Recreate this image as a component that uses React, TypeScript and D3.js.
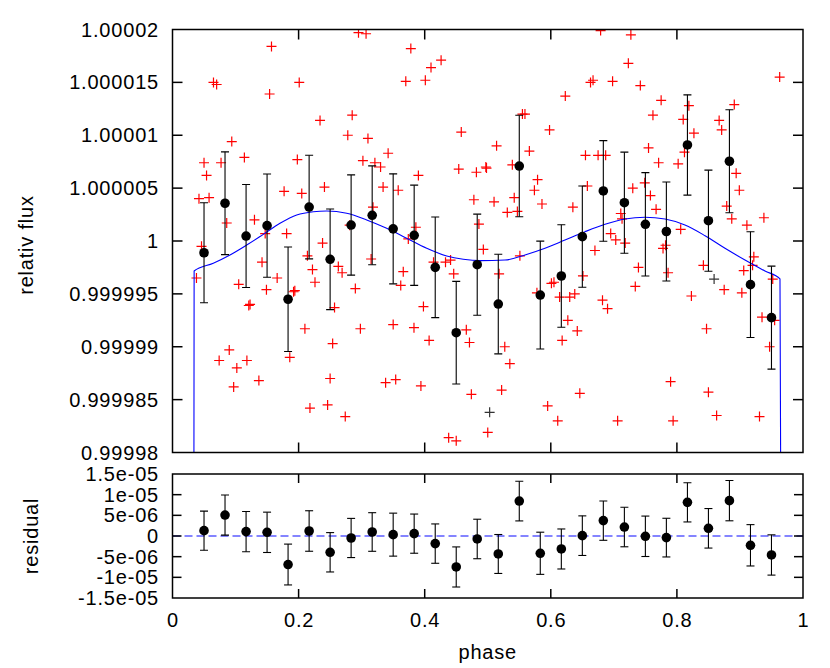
import React from 'react';
import * as d3 from 'd3';

// binned light curve (phase, relative flux, 1-sigma error)
const binPhase = [0.05, 0.0833, 0.1167, 0.15, 0.1833, 0.2167, 0.25, 0.2833, 0.3167, 0.35, 0.3833, 0.4167, 0.45, 0.4833,
  0.5167, 0.55, 0.5833, 0.6167, 0.65, 0.6833, 0.7167, 0.75, 0.7833, 0.8167, 0.85, 0.8833, 0.9167, 0.95];
const binFlux = [0.99999889, 1.00000357, 1.00000047, 1.00000145, 0.99999449, 1.00000321, 0.99999827, 1.00000151,
  1.00000243, 1.00000115, 1.00000054, 0.99999751, 0.99999133, 0.99999776, 0.99999404, 1.00000709, 0.99999489,
  0.99999669, 1.00000041, 1.00000473, 1.00000362, 1.00000158, 1.0000009, 1.00000908, 1.00000192, 1.00000754,
  0.99999587, 0.99999275];
const binErr = [4.73e-6, 4.86e-6, 4.87e-6, 4.88e-6, 4.94e-6, 4.9e-6, 4.76e-6, 4.74e-6, 4.67e-6, 5.2e-6, 4.74e-6,
  4.76e-6, 4.85e-6, 4.78e-6, 4.71e-6, 4.8e-6, 5.1e-6, 4.84e-6, 4.79e-6, 4.76e-6, 4.78e-6, 4.89e-6, 4.68e-6,
  4.74e-6, 4.78e-6, 4.87e-6, 5.0e-6, 4.87e-6];
const residual = [1.3e-6, 5.07e-6, 1.06e-6, 0.89e-6, -6.9e-6, 1.21e-6, -3.94e-6, -0.48e-6, 0.97e-6, 0.33e-6, 0.57e-6,
  -1.84e-6, -7.49e-6, -0.72e-6, -4.35e-6, 8.45e-6, -4.18e-6, -3.14e-6, 0.08e-6, 3.72e-6, 2.17e-6, -0.07e-6,
  -0.39e-6, 8.14e-6, 1.86e-6, 8.55e-6, -2.25e-6, -4.59e-6];

// model curve
const modelPhase = [0.0338, 0.0343, 0.0647, 0.0912, 0.1177, 0.144, 0.1705, 0.197, 0.2233, 0.2446, 0.2763, 0.308,
  0.3397, 0.3714, 0.4032, 0.4349, 0.4612, 0.4877, 0.5274, 0.5591, 0.5908, 0.6225, 0.6543, 0.686, 0.7177, 0.7494,
  0.7811, 0.8128, 0.8446, 0.8763, 0.908, 0.9397, 0.9635, 0.9651];
const modelFlux = [0.99997, 0.99999716, 0.9999979, 0.99999868, 0.99999962, 1.00000063, 1.00000167, 1.00000246,
  1.00000277, 1.00000284, 1.00000262, 1.00000199, 1.0000012, 1.00000026, 0.99999931, 0.99999858, 0.99999827,
  0.99999814, 0.9999982, 0.99999868, 0.99999931, 1.00000009, 1.00000088, 1.00000158, 1.00000208, 1.00000224,
  1.00000208, 1.00000151, 1.0000005, 0.99999931, 0.9999982, 0.99999716, 0.99999641, 0.99997];

// unbinned measurements
const crossPhase = [0.295, 0.307, 0.157, 0.378, 0.426, 0.41, 0.065, 0.07, 0.154, 0.201, 0.37, 0.401, 0.234, 0.285,
  0.278, 0.31, 0.458, 0.094, 0.05, 0.077, 0.114, 0.054, 0.198, 0.302, 0.321, 0.33, 0.342, 0.39, 0.454, 0.482, 0.497,
  0.042, 0.058, 0.177, 0.205, 0.241, 0.334, 0.358, 0.478, 0.086, 0.13, 0.147, 0.181, 0.318, 0.281, 0.386, 0.486,
  0.679, 0.727, 0.723, 0.963, 0.663, 0.667, 0.698, 0.742, 0.623, 0.775, 0.762, 0.555, 0.559, 0.819, 0.891, 0.81,
  0.867, 0.871, 0.827, 0.598, 0.514, 0.566, 0.755, 0.655, 0.675, 0.687, 0.812, 0.771, 0.802, 0.498, 0.539, 0.894,
  0.579, 0.574, 0.658, 0.73, 0.899, 0.542, 0.51, 0.586, 0.635, 0.767, 0.758, 0.749, 0.879, 0.531, 0.547, 0.711,
  0.713, 0.887, 0.938, 0.911, 0.806, 0.695,
  0.046, 0.038, 0.142, 0.105, 0.149, 0.166, 0.123, 0.121, 0.192, 0.194, 0.214, 0.222, 0.226, 0.238, 0.263, 0.269,
  0.29, 0.315, 0.257, 0.21, 0.254, 0.298, 0.074, 0.09, 0.102, 0.118, 0.097, 0.137, 0.186, 0.218, 0.246, 0.25, 0.274,
  0.338, 0.354, 0.35, 0.383, 0.398, 0.407, 0.394, 0.366, 0.362, 0.374, 0.414, 0.433, 0.441, 0.446, 0.466, 0.471,
  0.474, 0.493, 0.438, 0.45, 0.5, 0.551, 0.518, 0.527, 0.535, 0.522, 0.605, 0.601, 0.578, 0.614, 0.63, 0.638, 0.627,
  0.642, 0.618, 0.67, 0.703, 0.718, 0.739, 0.734, 0.682, 0.69, 0.651, 0.778, 0.782, 0.786, 0.823, 0.842, 0.875,
  0.847, 0.79, 0.85, 0.646, 0.595, 0.611, 0.706, 0.794, 0.863, 0.931, 0.906, 0.903, 0.922, 0.92, 0.952, 0.935,
  0.955, 0.947];
const crossFlux = [1.0000197, 1.0000196, 1.0000184, 1.0000182, 1.0000171, 1.0000164, 1.000015, 1.0000148, 1.0000139,
  1.000015, 1.0000151, 1.0000152, 1.0000114, 1.0000119, 1.00001, 1.0000097, 1.0000103, 1.0000094, 1.0000074,
  1.0000074, 1.0000079, 1.0000062, 1.0000077, 1.0000076, 1.0000074, 1.000007, 1.0000083, 1.0000062, 1.0000068,
  1.0000065, 1.000007, 1.000004, 1.0000041, 1.0000047, 1.0000045, 1.0000051, 1.0000051, 1.0000048, 1.0000039,
  1.0000017, 1.000002, 1.0000007, 1.0000007, 1.0000032, 1.0000015, 1.0000013, 1.0000016,
  1.0000199, 1.0000195, 1.0000168, 1.0000155, 1.000015, 1.0000152, 1.0000151, 1.0000147, 1.0000137, 1.0000133,
  1.0000119, 1.000012, 1.000012, 1.0000128, 1.0000129, 1.0000115, 1.0000114, 1.0000105, 1.0000102, 1.0000105,
  1.000009, 1.0000085, 1.0000088, 1.0000081, 1.0000081, 1.0000081, 1.0000084, 1.0000074, 1.0000073, 1.0000069,
  1.0000072, 1.0000064, 1.0000058, 1.0000048, 1.0000052, 1.000005, 1.0000048, 1.0000041, 1.0000037, 1.0000035,
  1.0000032, 1.000003, 1.0000043, 1.0000055, 1.0000033, 1.0000027, 1.0000028, 1.0000026, 1.0000021, 1.0000021,
  1.0000022, 1.0000015, 1.0000011, 1.0000007,
  0.9999995, 0.9999965, 0.999998, 0.9999959, 0.9999954, 0.9999965, 0.999994, 0.9999939, 0.9999952, 0.9999953,
  0.9999986, 0.9999973, 0.9999961, 0.9999998, 0.9999976, 0.999997, 0.9999955, 0.9999983, 0.9999937, 0.9999917,
  0.9999903, 0.9999917, 0.9999887, 0.9999897, 0.999988, 0.9999887, 0.9999862, 0.9999868, 0.999989, 0.9999842,
  0.9999845, 0.999987, 0.9999834, 0.9999866, 0.9999869, 0.9999921, 0.9999918, 0.9999938, 0.9999906, 0.9999863,
  0.9999971, 0.9999958, 1.0000002, 0.999998, 0.999998, 0.9999982, 0.9999969, 0.9999916, 0.9999904, 0.9999855,
  0.9999992, 0.9999814, 0.9999811, 0.9999819, 0.9999986, 0.9999969, 0.99999, 0.9999884, 0.9999859, 0.9999961,
  0.999996, 0.9999951, 0.9999947, 0.9999947, 0.999995, 0.9999925, 0.9999915, 0.9999906, 0.9999991, 1.0000001,
  0.9999998, 0.9999975, 0.9999957, 0.9999944, 0.9999936, 0.9999967, 0.9999993, 0.9999996, 0.999997, 0.9999948,
  0.9999977, 0.9999954, 0.9999917, 0.9999867, 0.9999857, 0.9999856, 0.9999844, 0.999983, 0.999983, 0.999983,
  0.9999835, 0.9999834, 0.9999972, 0.9999951, 0.9999985, 0.9999977, 0.9999964, 0.9999928, 0.9999925, 0.99999];
const darkCrossPhase = [0.503, 0.859];
const darkCrossFlux = [0.9999838, 0.9999964];

// axis ticks
const xTicks = [0, 0.2, 0.4, 0.6, 0.8, 1];
const xTickLabels = ['0', '0.2', '0.4', '0.6', '0.8', '1'];
const yTopTicks = [0.99998, 0.999985, 0.99999, 0.999995, 1, 1.000005, 1.00001, 1.000015, 1.00002];
const yTopTickLabels = ['0.99998', '0.999985', '0.99999', '0.999995', '1', '1.000005', '1.00001', '1.000015', '1.00002'];
const yBotTicks = [-1.5e-5, -1e-5, -5e-6, 0, 5e-6, 1e-5, 1.5e-5];
const yBotTickLabels = ['-1.5e-05', '-1e-05', '-5e-06', '0', '5e-06', '1e-05', '1.5e-05'];

const FONT = "'Liberation Sans', Arial, Helvetica, sans-serif";

export default function App() {
  const L = 172.5, R = 803;
  const T1 = 29.5, B1 = 452.5;
  const T2 = 474, B2 = 598;
  const x = d3.scaleLinear().domain([0, 1]).range([L, R]);
  const yTop = d3.scaleLinear().domain([0.99998, 1.00002]).range([B1, T1]);
  const yBot = d3.scaleLinear().domain([-1.5e-5, 1.5e-5]).range([B2, T2]);

  const modelLine = d3.line<number>()
    .x((_, i) => x(modelPhase[i]))
    .y((d) => yTop(d))
    .curve(d3.curveMonotoneX)(modelFlux) || '';

  const txt = { fontFamily: FONT, fontSize: 20, letterSpacing: 0.8, fill: '#000' } as const;
  const cs = 5;
  const cap = 4;
  const tick1 = 10, tick2 = 9;

  const cross = (px: number, py: number, color: string, key: string) => (
    <g key={key} stroke={color} strokeWidth={1.2}>
      <line x1={px - cs} x2={px + cs} y1={py} y2={py} />
      <line x1={px} x2={px} y1={py - cs} y2={py + cs} />
    </g>
  );

  return (
    <svg width={830} height={668} style={{ position: 'absolute', left: 0, top: 0, background: '#fff' }}>
      <defs>
        <clipPath id="clipTop"><rect x={L} y={T1} width={R - L} height={B1 - T1} /></clipPath>
        <clipPath id="clipBot"><rect x={L} y={T2} width={R - L} height={B2 - T2} /></clipPath>
      </defs>
      <rect x={0} y={0} width={830} height={668} fill="#fff" />

      {/* ===== top panel ===== */}
      <g clipPath="url(#clipTop)">
        {crossPhase.map((p, i) => cross(x(p), yTop(crossFlux[i]), '#ff0000', 'c' + i))}
        {darkCrossPhase.map((p, i) => cross(x(p), yTop(darkCrossFlux[i]), '#333', 'd' + i))}
        <path d={modelLine} fill="none" stroke="#0000ff" strokeWidth={1.1} />
        {binPhase.map((p, i) => {
          const cx = x(p);
          const y0 = yTop(binFlux[i] - binErr[i]);
          const y1 = yTop(binFlux[i] + binErr[i]);
          return (
            <g key={'b' + i} stroke="#000" strokeWidth={1.1}>
              <line x1={cx} x2={cx} y1={y0} y2={y1} />
              <line x1={cx - cap} x2={cx + cap} y1={y0} y2={y0} />
              <line x1={cx - cap} x2={cx + cap} y1={y1} y2={y1} />
              <circle cx={cx} cy={yTop(binFlux[i])} r={4.8} fill="#000" stroke="none" />
            </g>
          );
        })}
      </g>
      <g stroke="#000" strokeWidth={1.5}>
        {xTicks.slice(1, -1).map((t) => (
          <g key={'xt1' + t}>
            <line x1={x(t)} x2={x(t)} y1={B1} y2={B1 - tick1} />
            <line x1={x(t)} x2={x(t)} y1={T1} y2={T1 + tick1} />
          </g>
        ))}
        {yTopTicks.slice(1, -1).map((t) => (
          <g key={'yt1' + t}>
            <line x1={L} x2={L + tick1} y1={yTop(t)} y2={yTop(t)} />
            <line x1={R} x2={R - tick1} y1={yTop(t)} y2={yTop(t)} />
          </g>
        ))}
        <rect x={L} y={T1} width={R - L} height={B1 - T1} fill="none" />
      </g>
      {yTopTicks.map((t, i) => (
        <text key={'ytl' + i} x={159} y={yTop(t) + 7} textAnchor="end" style={txt}>{yTopTickLabels[i]}</text>
      ))}
      <text transform="translate(33,245) rotate(-90)" textAnchor="middle" style={txt}>relativ flux</text>

      {/* ===== residual panel ===== */}
      <g clipPath="url(#clipBot)">
        <line x1={L} x2={R} y1={yBot(0)} y2={yBot(0)} stroke="#5c5cff" strokeWidth={1.6} strokeDasharray="8,4" />
        {binPhase.map((p, i) => {
          const cx = x(p);
          const y0 = yBot(residual[i] - binErr[i]);
          const y1 = yBot(residual[i] + binErr[i]);
          return (
            <g key={'r' + i} stroke="#000" strokeWidth={1.1}>
              <line x1={cx} x2={cx} y1={y0} y2={y1} />
              <line x1={cx - cap} x2={cx + cap} y1={y0} y2={y0} />
              <line x1={cx - cap} x2={cx + cap} y1={y1} y2={y1} />
              <circle cx={cx} cy={yBot(residual[i])} r={4.8} fill="#000" stroke="none" />
            </g>
          );
        })}
      </g>
      <g stroke="#000" strokeWidth={1.5}>
        {xTicks.slice(1, -1).map((t) => (
          <g key={'xt2' + t}>
            <line x1={x(t)} x2={x(t)} y1={B2} y2={B2 - tick2} />
            <line x1={x(t)} x2={x(t)} y1={T2} y2={T2 + tick2} />
          </g>
        ))}
        {yBotTicks.slice(1, -1).map((t) => (
          <g key={'yt2' + t}>
            <line x1={L} x2={L + tick2} y1={yBot(t)} y2={yBot(t)} />
            <line x1={R} x2={R - tick2} y1={yBot(t)} y2={yBot(t)} />
          </g>
        ))}
        <rect x={L} y={T2} width={R - L} height={B2 - T2} fill="none" />
      </g>
      {yBotTicks.map((t, i) => (
        <text key={'ybl' + i} x={159} y={yBot(t) + 7} textAnchor="end" style={txt}>{yBotTickLabels[i]}</text>
      ))}
      {xTicks.map((t, i) => (
        <text key={'xl' + i} x={x(t) + 0.5} y={627} textAnchor="middle" style={txt}>{xTickLabels[i]}</text>
      ))}
      <text transform="translate(38,536) rotate(-90)" textAnchor="middle" style={txt}>residual</text>
      <text x={(L + R) / 2} y={659} textAnchor="middle" style={txt}>phase</text>
    </svg>
  );
}
